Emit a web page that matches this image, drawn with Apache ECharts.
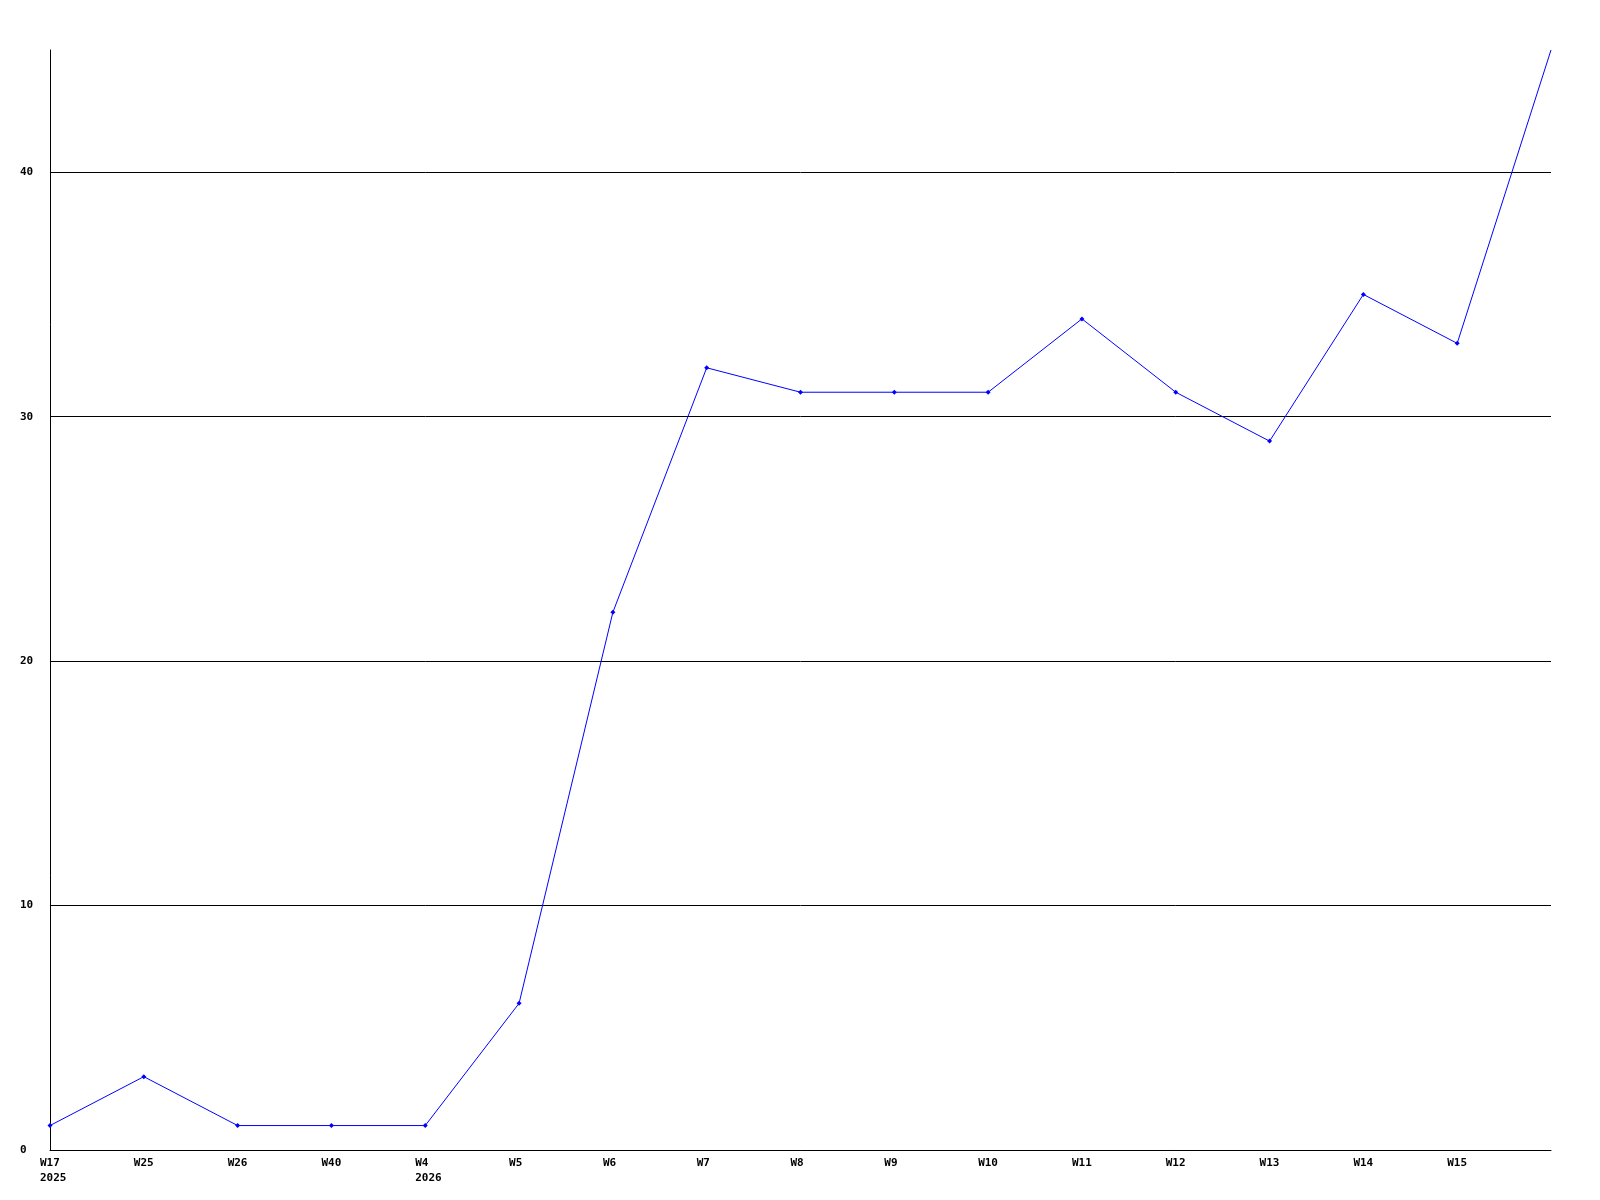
<!DOCTYPE html>
<html>
<head>
<meta charset="utf-8">
<script src="https://cdn.jsdelivr.net/npm/echarts@6/dist/echarts.min.js"></script>
<style>html,body{margin:0;padding:0;background:#fff}#c{width:1600px;height:1200px}</style>
</head>
<body>
<div id="c"></div>
<script>
const categories = ["W17\n2025","W25","W26","W40","W4\n2026","W5","W6","W7","W8","W9","W10","W11","W12","W13","W14","W15",""];
const values = [1,3,1,1,1,6,22,32,31,31,31,34,31,29,35,33,45];
const yTicks = [0,10,20,30,40];

const chart = echarts.init(document.getElementById('c'), null, {renderer:'canvas'});
const font = {fontFamily:'DejaVu Sans Mono', fontWeight:'bold', fontSize:11, color:'#000'};
chart.setOption({
  animation:false,
  backgroundColor:'#fff',
  grid:{left:50, right:49, top:50, bottom:50, containLabel:false},
  xAxis:{
    type:'category', data:categories, boundaryGap:false,
    axisLine:{lineStyle:{color:'#000', width:1}},
    axisTick:{show:false},
    splitLine:{show:false},
    axisLabel:Object.assign({}, font, {interval:0, align:'left', margin:6, padding:[0,0,0,-10], lineHeight:15})
  },
  yAxis:{
    type:'value', min:0, max:45, interval:10,
    axisLine:{show:true, lineStyle:{color:'#000', width:1}},
    axisTick:{show:false},
    splitLine:{show:true, showMaxLine:false, lineStyle:{color:'#000', width:1}},
    axisLabel:Object.assign({}, font, {align:'left', margin:30,
      formatter:function(v){return yTicks.indexOf(v)>=0 ? String(v) : '';}})
  },
  series:[{
    type:'line', data:values,
    lineStyle:{color:'#0000ff', width:1},
    itemStyle:{color:'#0000ff'},
    symbol:function(v, p){ return p.dataIndex === values.length - 1 ? 'none' : 'diamond'; },
    symbolSize:5, showSymbol:true
  }]
});
</script>
</body>
</html>
